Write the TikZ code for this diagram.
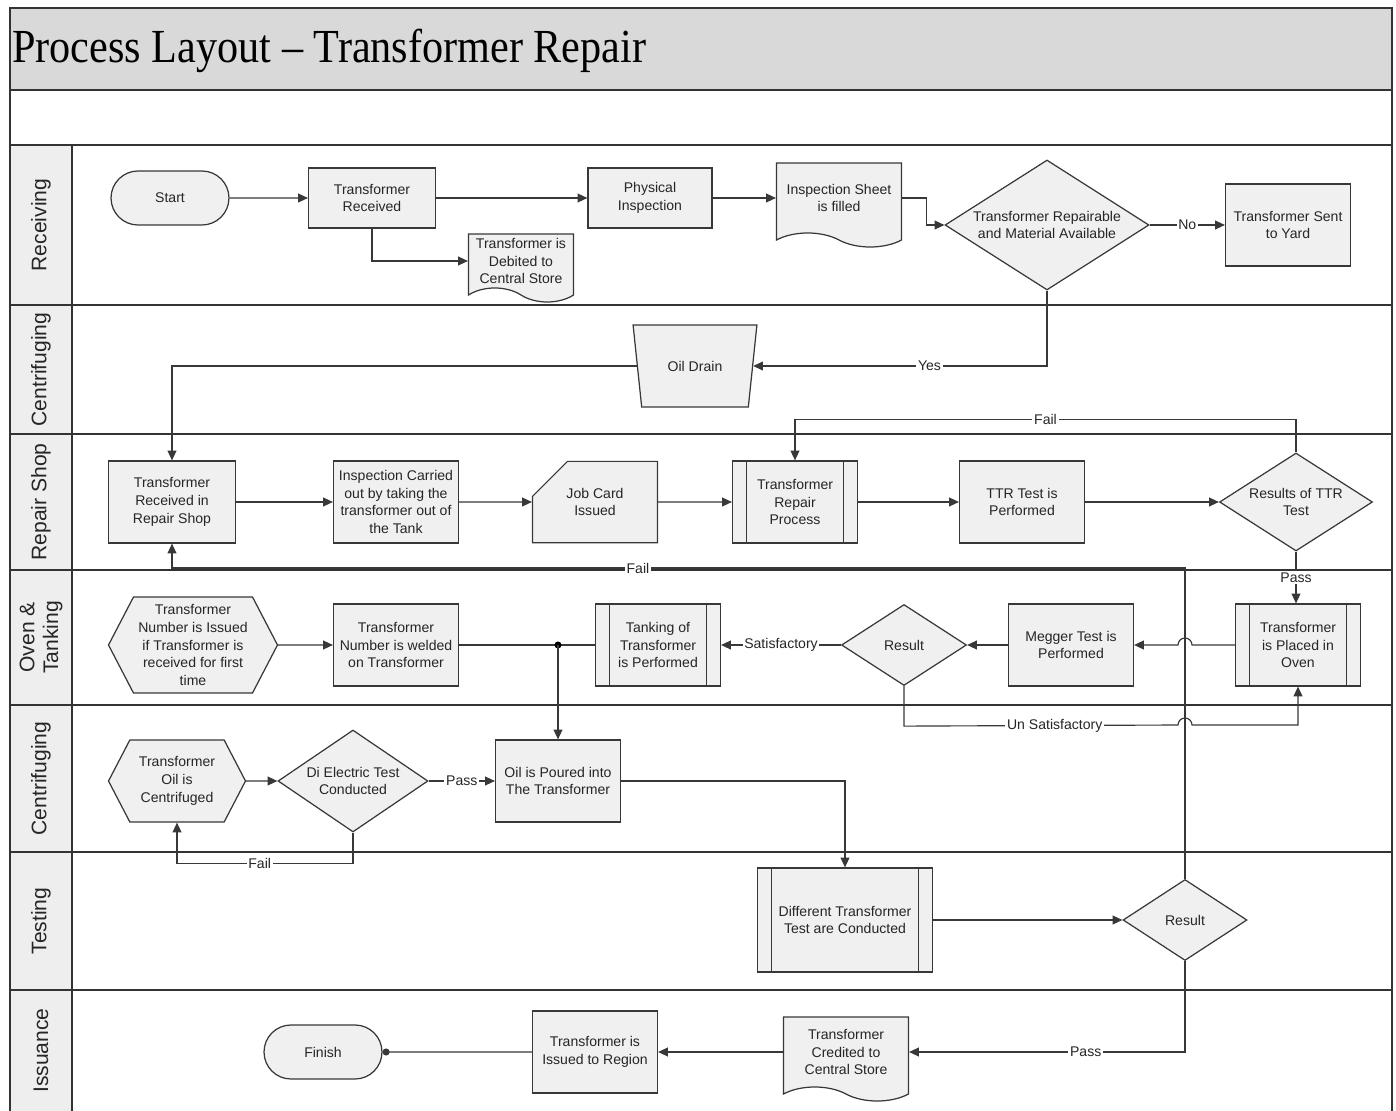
\documentclass[tikz,border=0pt]{standalone}
\usepackage{fontspec}
\setmainfont{Liberation Sans}
\newfontfamily\titlefont[Ligatures=TeX]{Liberation Serif}
\usepackage{tikz}
\usetikzlibrary{shapes.geometric,shapes.misc,shapes.symbols,arrows.meta}
\newdimen\pxu \pxu=0.02cm
\definecolor{shapefill}{HTML}{F0F0F0}
\definecolor{edgegray}{HTML}{383838}
\definecolor{titlegray}{HTML}{D9D9D9}
\definecolor{lanegray}{HTML}{EEEEEE}

\begin{document}
\begin{tikzpicture}[x=0.02cm, y=0.02cm,
  every node/.style={font=\fontsize{8}{10.2}\selectfont, align=center, text=black!85},
  box/.style={draw=edgegray, fill=shapefill, line width=0.7pt, inner sep=2pt},
  proc/.style={box, rectangle, minimum width=125\pxu, minimum height=82\pxu},
  term/.style={box, rounded rectangle, minimum width=125\pxu, minimum height=54\pxu},
  decision/.style={box, diamond, aspect=1.5, inner sep=0pt},
  doc/.style={box, tape, tape bend top=none, tape bend bottom=out and in, tape bend height=14\pxu, minimum width=125\pxu},
  subproc/.style={proc, path picture={
    \draw[edgegray, line width=0.7pt]
      ([xshift=14\pxu]path picture bounding box.north west) -- ([xshift=14\pxu]path picture bounding box.south west)
      ([xshift=-14\pxu]path picture bounding box.north east) -- ([xshift=-14\pxu]path picture bounding box.south east);}},
  prep/.style={box, signal, signal to=east and west, signal pointer angle=125, minimum height=82\pxu},
  card/.style={box, chamfered rectangle, chamfered rectangle corners=north west,
    chamfered rectangle xsep=12\pxu, chamfered rectangle ysep=23\pxu, minimum width=125\pxu, minimum height=66\pxu},
  drain/.style={box, trapezium, shape border rotate=180, trapezium left angle=74, trapezium right angle=74,
    trapezium stretches=true, minimum width=124\pxu, minimum height=82\pxu},
  flow/.style={draw=edgegray, line width=0.65pt, -{Triangle[length=5.5pt,width=5pt]}},
  lbl/.style={fill=white, inner sep=1pt},
  lane/.style={font=\fontsize{12}{13.5}\selectfont, rotate=90},
  rule/.style={draw=black!80, line width=1pt}
]
\useasboundingbox (0,0) rectangle (1396,-1111);
\clip (0,0) rectangle (1396,-1111);

% swimlanes
\fill[titlegray] (10,-8) rectangle (1392,-90);
\fill[lanegray] (10,-145) rectangle (72,-1120);
\draw[rule] (10,-8) rectangle (1392,-1120);
\draw[rule] (10,-90) -- (1392,-90) (72,-145) -- (72,-1120);
\foreach \ya/\yb/\lname in {145/305/Receiving, 305/434/Centrifuging, 434/570/Repair Shop,
    570/705/{Oven \&\\Tanking}, 705/852/Centrifuging, 852/990/Testing, 990/1111/Issuance}
  {\draw[rule] (10,-\ya) -- (1392,-\ya);
   \node[lane] at (41,{-(\ya+\yb)/2}) {\lname};}
\node[anchor=base west, font=\titlefont\fontsize{27}{30}\selectfont, text=black, inner sep=0pt] (title) at (12,-63)
  {\scalebox{0.89}[1]{Process Layout -- Transformer Repair}};

% Receiving
\node[term] (start) at (170,-198) {Start};
\node[proc, minimum width=127\pxu, minimum height=60\pxu] (trecv) at (372,-198) {Transformer\\Received};
\node[doc, minimum width=105\pxu, minimum height=68\pxu] (debit) at (521,-261) {Transformer is\\Debited to\\Central Store};
\node[proc, minimum width=124\pxu, minimum height=60\pxu] (phys) at (650,-198) {Physical\\Inspection};
\node[doc, minimum height=84\pxu] (insp) at (839,-198) {Inspection Sheet\\is filled};
\node[decision, minimum width=204\pxu, minimum height=130\pxu] (repairable) at (1047,-225) {Transformer Repairable\\and Material Available};
\node[proc] (yard) at (1288,-225) {Transformer Sent\\to Yard};

% Centrifuging
\node[drain] (drain) at (695,-366) {Oil Drain};

% Repair Shop
\node[proc, minimum width=127\pxu] (rsrecv) at (172,-502) {Transformer\\Received in\\Repair Shop};
\node[proc] (inspout) at (396,-502) {Inspection Carried\\out by taking the\\transformer out of\\the Tank};
\node[card] (jobcard) at (595,-502) {Job Card\\Issued};
\node[subproc] (rproc) at (795,-502) {Transformer\\Repair\\Process};
\node[proc] (ttr) at (1022,-502) {TTR Test is\\Performed};
\node[decision, minimum width=153\pxu, minimum height=98\pxu] (ttrres) at (1296,-502) {Results of TTR\\Test};

% Oven & Tanking
\node[prep, minimum width=169\pxu, minimum height=96\pxu] (numiss) at (193,-645) {Transformer\\Number is Issued\\if Transformer is\\received for first\\time};
\node[proc] (weld) at (396,-645) {Transformer\\Number is welded\\on Transformer};
\node[subproc] (tank) at (658,-645) {Tanking of\\Transformer\\is Performed};
\node[decision, minimum width=125\pxu, minimum height=81\pxu] (ovres) at (904,-645) {Result};
\node[proc] (megger) at (1071,-645) {Megger Test is\\Performed};
\node[subproc] (oven) at (1298,-645) {Transformer\\is Placed in\\Oven};
\coordinate (jn) at (558,-645);

% Centrifuging
\node[prep, minimum width=137\pxu] (oilc) at (177,-781) {Transformer\\Oil is\\Centrifuged};
\node[decision, minimum width=150\pxu, minimum height=102\pxu] (diel) at (353,-781) {Di Electric Test\\Conducted};
\node[proc] (pour) at (558,-781) {Oil is Poured into\\The Transformer};

% Testing
\node[subproc, minimum width=175\pxu, minimum height=104\pxu] (difft) at (845,-920) {Different Transformer\\Test are Conducted};
\node[decision, minimum width=124\pxu, minimum height=81\pxu] (tres) at (1185,-920) {Result};
\coordinate (failturn) at (172,-568);

% Issuance
\node[doc, minimum height=84\pxu] (credit) at (846,-1052) {Transformer\\Credited to\\Central Store};
\node[proc] (issued) at (595,-1052) {Transformer is\\Issued to Region};
\node[term] (finish) at (323,-1052) {Finish};

% connectors
\draw[flow] (start) -- (trecv);
\draw[flow] (trecv) -- (phys);
\draw[flow] (trecv.south) |- (debit.west);
\draw[flow] (phys.east) -- (phys.east -| insp.west);
\draw[flow] (phys.east -| insp.east) -- ++(24,0) |- (repairable.west);
\draw[flow] (repairable) -- node[lbl]{No} (yard);
\draw[flow] (repairable.south) |- node[lbl, pos=0.7]{Yes} (drain.east);
\draw[flow] (drain.west) -| (rsrecv.north);

\draw[flow] (rsrecv) -- (inspout);
\draw[flow] (inspout) -- (jobcard);
\draw[flow] (jobcard) -- (rproc);
\draw[flow] (rproc) -- (ttr);
\draw[flow] (ttr) -- (ttrres);
\draw[flow] (ttrres.north) -- ++(0,33) -| node[lbl, pos=0.25]{Fail} (rproc.north);
\draw[flow] (ttrres.south) -- node[lbl]{Pass} (ttrres.south |- oven.north);

\draw[flow] (oven.west) -- (1192,-645) arc (0:180:7) -- (megger.east);
\draw[flow] (megger) -- (ovres);
\draw[flow] (ovres) -- node[lbl]{Satisfactory} (tank);
\draw[flow] (ovres.south) -- ++(0,-40) -- node[lbl, pos=0.55]{Un Satisfactory} (1178,-725) arc (180:0:7) -| (oven.south);
\draw[flow] (numiss) -- (weld);
\draw[draw=edgegray, line width=0.65pt] (weld) -- (tank);
\fill[black] (jn) circle (2pt);
\draw[flow] (jn) -- (pour.north);

\draw[flow] (oilc) -- (diel);
\draw[flow] (diel) -- node[lbl]{Pass} (pour);
\draw[flow] (diel.south) -- ++(0,-31) -| node[lbl, pos=0.265]{Fail} (oilc.south);
\draw[flow] (pour.east) -| (difft.north);

\draw[flow] (difft) -- (tres);
\draw[flow] (tres.north) |- node[lbl, pos=0.77]{Fail} (failturn) -- (rsrecv.south);
\draw[flow] (tres.south) |- node[lbl, pos=0.68]{Pass} (credit.east);
\draw[flow] (credit.west) -- (credit.west -| issued.east);
\draw[draw=edgegray, line width=0.65pt, -{Circle[length=4pt]}] (issued) -- (finish);
\end{tikzpicture}
\end{document}
